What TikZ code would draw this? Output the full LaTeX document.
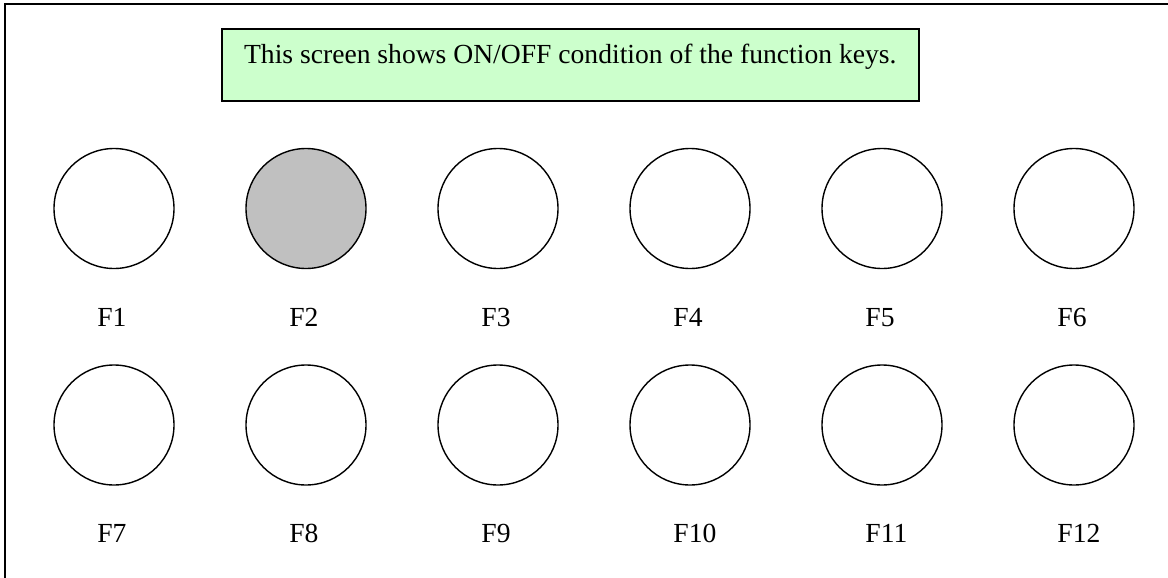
\documentclass[tikz,border=0pt]{standalone}
\usepackage{fontspec}
\setmainfont{Liberation Serif}
\usepackage{tikz}
\usetikzlibrary{positioning}
\definecolor{notegreen}{HTML}{CCFFCC}
\definecolor{keygray}{HTML}{C0C0C0}
\tikzset{fkey/.style={circle, draw=black, line width=0.7pt, inner sep=0pt, minimum size=60pt,}, fkeyon/.style={fkey, fill=keygray}}
\tikzset{fname/.style={anchor=base west, inner sep=0pt, font=\fontsize{13.8}{16}\selectfont},
    notebox/.style={draw=black, line width=0.8pt, fill=notegreen, anchor=north west, inner sep=0pt,
        minimum width=348.5pt, text height=17.5pt, text depth=18.5pt, font=\fontsize{13.8}{16}\selectfont}}

\begin{document}
\begin{tikzpicture}[x=0.5pt,y=-0.5pt]
                 \useasboundingbox (0,0) rectangle (1168,578);
                 \clip (0,0) rectangle (1168,578);
                 \draw[line width=1pt] (5,4) rectangle (1190,600);

                 \node[notebox] (note) at (221,28) {This screen shows ON/OFF condition of the function keys.};

                 % first row
                 \node[fkey] (k1) at (114,208.5) {};
                 \node[fkeyon] (k2) at (306,208.5) {};
                 \node[fkey] (k3) at (498,208.5) {};
                 \node[fkey] (k4) at (690,208.5) {};
                 \node[fkey] (k5) at (882,208.5) {};
                 \node[fkey] (k6) at (1074,208.5) {};
                 \node[fname] (f1) at (97,326) {F1};
                 \node[fname] (f2) at (289,326) {F2};
                 \node[fname] (f3) at (481,326) {F3};
                 \node[fname] (f4) at (673,326) {F4};
                 \node[fname] (f5) at (865,326) {F5};
                 \node[fname] (f6) at (1057,326) {F6};

                 % second row
                 \node[fkey] (k7) at (114,425) {};
                 \node[fkey] (k8) at (306,425) {};
                 \node[fkey] (k9) at (498,425) {};
                 \node[fkey] (k10) at (690,425) {};
                 \node[fkey] (k11) at (882,425) {};
                 \node[fkey] (k12) at (1074,425) {};
                 \node[fname] (f7) at (97,542.5) {F7};
                 \node[fname] (f8) at (289,542.5) {F8};
                 \node[fname] (f9) at (481,542.5) {F9};
                 \node[fname] (f10) at (673,542.5) {F10};
                 \node[fname] (f11) at (865,542.5) {F11};
                 \node[fname] (f12) at (1057,542.5) {F12};
             \end{tikzpicture}
\end{document}
